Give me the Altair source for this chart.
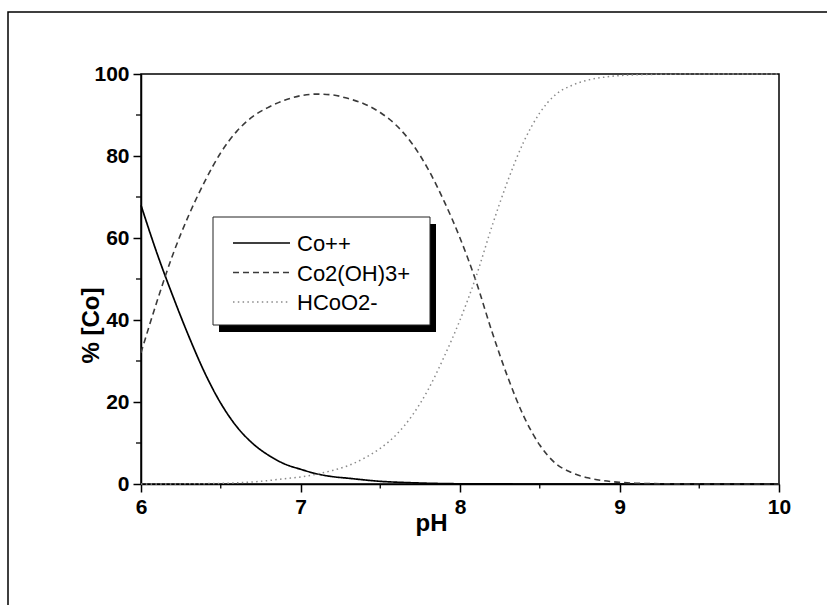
import altair as alt
import pandas as pd

# pH grid and percentage of total cobalt in each species
ph = [6.0, 6.1, 6.2, 6.3, 6.4, 6.5, 6.6, 6.7, 6.8, 6.9,
      7.0, 7.1, 7.2, 7.3, 7.4, 7.5, 7.6, 7.7, 7.8, 7.9,
      8.0, 8.1, 8.2, 8.3, 8.4, 8.5, 8.6, 8.7, 8.8, 8.9,
      9.0, 9.1, 9.2, 9.3, 9.4, 9.5, 9.6, 9.7, 9.8, 9.9, 10.0]

co_pp = [68.0, 56.3, 45.8, 36.0, 27.1, 19.7, 14.0, 9.9, 7.0, 4.9,
         3.6, 2.5, 1.8, 1.4, 1.0, 0.65, 0.45, 0.3, 0.18, 0.1,
         0.05, 0.03, 0.02, 0.01, 0.0, 0.0, 0.0, 0.0, 0.0, 0.0,
         0.0, 0.0, 0.0, 0.0, 0.0, 0.0, 0.0, 0.0, 0.0, 0.0, 0.0]

co2_oh3 = [32.0, 44.5, 56.0, 65.6, 73.8, 80.8, 86.0, 89.6, 91.9, 93.6,
           94.7, 95.1, 94.9, 94.0, 92.7, 90.6, 87.5, 83.0, 76.8, 69.0,
           60.0, 49.5, 37.2, 26.0, 16.5, 9.5, 5.0, 2.8, 1.5, 0.8,
           0.4, 0.2, 0.1, 0.05, 0.02, 0.0, 0.0, 0.0, 0.0, 0.0, 0.0]

hcoo2 = [0.0, 0.01, 0.02, 0.04, 0.08, 0.15, 0.28, 0.5, 0.85, 1.3,
         1.7, 2.4, 3.3, 4.5, 6.3, 8.7, 12.0, 16.7, 23.0, 31.0,
         40.0, 50.5, 62.8, 74.0, 83.5, 90.5, 95.0, 97.2, 98.5, 99.2,
         99.6, 99.8, 99.9, 99.95, 99.98, 100.0, 100.0, 100.0, 100.0, 100.0, 100.0]

series_names = ["Co++", "Co2(OH)3+", "HCoO2-"]
x_major = [6, 7, 8, 9, 10]
x_minor = [6.5, 7.5, 8.5, 9.5]
y_major = [0, 20, 40, 60, 80, 100]
y_minor = [10, 30, 50, 70, 90]

# line styles per species
line_colors = ["#000000", "#3a3a3a", "#8a8a8a"]
line_dashes = [[1, 0], [6, 4], [1.5, 3.3]]
line_widths = [1.7, 1.5, 1.6]

W, H = 638, 410
FONT = "Liberation Sans"

df = pd.DataFrame({
    "pH": ph * 3,
    "pct": co_pp + co2_oh3 + hcoo2,
    "species": [series_names[0]] * len(ph) + [series_names[1]] * len(ph) + [series_names[2]] * len(ph),
})

x_scale = alt.Scale(domain=[6, 10], nice=False, zero=False)
y_scale = alt.Scale(domain=[0, 100], nice=False)

# outer frame around the whole figure
frame = alt.Chart(pd.DataFrame({"k": [0]})).mark_rect(
    filled=False, stroke="black", strokeWidth=1.5
).encode(
    x=alt.value(-133), x2=alt.value(720),
    y=alt.value(-62), y2=alt.value(560),
)

curves = alt.Chart(df).mark_line(interpolate="monotone").encode(
    x=alt.X("pH:Q", scale=x_scale,
            axis=alt.Axis(values=x_major, format="d", title="pH",
                          titleX=290, titleAnchor="middle", titlePadding=-6)),
    y=alt.Y("pct:Q", scale=y_scale,
            axis=alt.Axis(values=y_major, format="d", title="% [Co]",
                          titleY=251, titleAnchor="middle", titlePadding=-10)),
    color=alt.Color("species:N", scale=alt.Scale(domain=series_names, range=line_colors), legend=None),
    strokeDash=alt.StrokeDash("species:N", scale=alt.Scale(domain=series_names, range=line_dashes), legend=None),
    strokeWidth=alt.StrokeWidth("species:N", scale=alt.Scale(domain=series_names, range=line_widths), legend=None),
)

# minor ticks on both axes
minor_x = alt.Chart(pd.DataFrame({"v": x_minor})).mark_rule(color="black", strokeWidth=1.3).encode(
    x=alt.X("v:Q", scale=x_scale),
    y=alt.value(H), y2=alt.value(H + 4.5),
)
minor_y = alt.Chart(pd.DataFrame({"v": y_minor})).mark_rule(color="black", strokeWidth=1.3).encode(
    y=alt.Y("v:Q", scale=y_scale),
    x=alt.value(-5), x2=alt.value(0),
)

# legend box with drop shadow
box_x0, box_x1, box_y0, box_y1 = 72, 289, 143, 251
shadow = alt.Chart(pd.DataFrame({"k": [0]})).mark_rect(color="black").encode(
    x=alt.value(box_x0 + 6), x2=alt.value(box_x1 + 6),
    y=alt.value(box_y0 + 7), y2=alt.value(box_y1 + 7),
)
box = alt.Chart(pd.DataFrame({"k": [0]})).mark_rect(
    fill="white", stroke="#222222", strokeWidth=1
).encode(
    x=alt.value(box_x0), x2=alt.value(box_x1),
    y=alt.value(box_y0), y2=alt.value(box_y1),
)

legend_layers = [shadow, box]
for i, name in enumerate(series_names):
    row_y = 169 + i * 29.5
    legend_layers.append(
        alt.Chart(pd.DataFrame({"s": [name]})).mark_rule(
            color=line_colors[i], strokeDash=line_dashes[i], strokeWidth=line_widths[i]
        ).encode(x=alt.value(92), x2=alt.value(149), y=alt.value(row_y))
    )
    legend_layers.append(
        alt.Chart(pd.DataFrame({"s": [name]})).mark_text(
            align="left", baseline="middle", font=FONT, fontSize=22, color="black"
        ).encode(x=alt.value(156), y=alt.value(row_y + 1), text="s:N")
    )

chart = alt.layer(frame, curves, minor_x, minor_y, *legend_layers).properties(
    width=W, height=H,
    autosize=alt.AutoSizeParams(type="none"),
    padding={"left": 141, "top": 74, "right": 48, "bottom": 121},
    background="white",
).configure_view(
    stroke="black", strokeWidth=1.5
).configure_axis(
    grid=False,
    domainColor="black", domainWidth=1.5,
    tickColor="black", tickWidth=1.5, tickSize=8,
    labelFont=FONT, labelFontWeight="bold", labelFontSize=21, labelColor="black",
    labelPadding=4, labelFlush=False,
    titleFont=FONT, titleFontWeight="bold", titleFontSize=24, titleColor="black",
)

chart.save("out.html", embed_options={"renderer": "svg", "actions": False})
